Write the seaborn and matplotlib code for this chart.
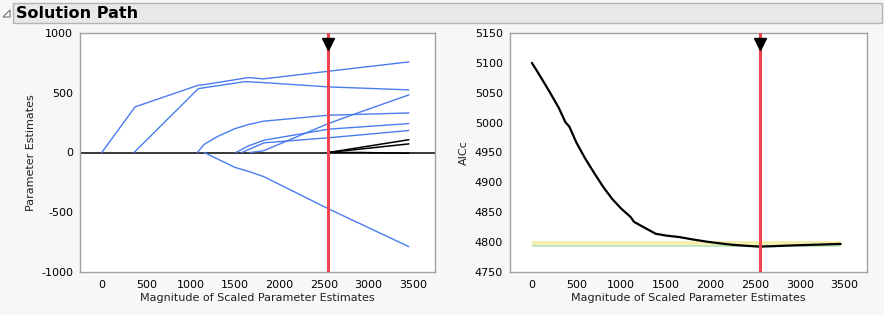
import numpy as np
import pandas as pd
import matplotlib
matplotlib.use("Agg")
import matplotlib.pyplot as plt
from matplotlib.patches import Rectangle, Polygon
from matplotlib.ticker import MultipleLocator
import seaborn as sns

sns.set_theme(style="white")
plt.rcParams['font.family'] = ['DejaVu Sans']
plt.rcParams['axes.unicode_minus'] = False

# ---------------- data ----------------
selected_x = 2550

path_a_x = [0, 375, 1087, 1130, 1650, 1819, 2550, 3456]
path_a_y = [0, 382, 563, 565, 627, 616, 680, 758]
path_b_x = [364, 1087, 1612, 1819, 2550, 3456]
path_b_y = [0, 535, 593, 585, 549, 524]
path_c_x = [1076, 1151, 1294, 1500, 1650, 1819, 2550, 3456]
path_c_y = [0, 67, 131, 200, 234, 262, 312, 331]
path_d_x = [1151, 1500, 1669, 1826, 2550, 3456]
path_d_y = [0, -125, -162, -203, -471, -788]
path_e_x = [1511, 1650, 1826, 2550, 3456]
path_e_y = [0, 55, 103, 195, 242]
path_f_x = [1575, 1700, 1826, 2550, 3456]
path_f_y = [0, 40, 81, 123, 184]
path_g_x = [1669, 1819, 2550, 2831, 3456]
path_g_y = [0, 14, 242, 318, 482]
path_h_x = [2550, 3456]
path_h_y = [0, 107]
path_i_x = [2550, 3456]
path_i_y = [0, 72]
path_j_x = [2550, 2906, 3456]
path_j_y = [0, 0, -6]

blue_paths = {"a": (path_a_x, path_a_y), "b": (path_b_x, path_b_y),
              "c": (path_c_x, path_c_y), "d": (path_d_x, path_d_y),
              "e": (path_e_x, path_e_y), "f": (path_f_x, path_f_y),
              "g": (path_g_x, path_g_y)}
black_paths = {"h": (path_h_x, path_h_y), "i": (path_i_x, path_i_y),
               "j": (path_j_x, path_j_y)}

aicc_x = [0, 100, 200, 300, 374, 420, 500, 600, 700, 800, 900, 1000, 1105,
          1142, 1250, 1386, 1500, 1647, 1800, 1947, 2100, 2246, 2400, 2546,
          2700, 2920, 3200, 3456]
aicc_y = [5100, 5076, 5051, 5025, 5001, 4993, 4966, 4939, 4915, 4892, 4872,
          4856, 4842, 4834, 4825, 4814, 4811, 4808.5, 4804.5, 4801, 4798,
          4795.5, 4793.8, 4792.5, 4793.2, 4794.5, 4795.8, 4797]

band_x = [0, 3456]
green_lo, green_hi = 4792.3, 4795.0
yellow_lo, yellow_hi = 4795.0, 4802.0

x_ticks = [0, 500, 1000, 1500, 2000, 2500, 3000, 3500]
xlabel = "Magnitude of Scaled Parameter Estimates"

# ---------------- figure ----------------
W, H = 884, 315
fig = plt.figure(figsize=(W / 100, H / 100), dpi=100)
fig.patch.set_facecolor("#f7f7f7")

# header bar
fig.patches.append(Rectangle((13 / W, 1 - 23 / H), (882 - 13) / W, 20 / H,
                             transform=fig.transFigure, facecolor="#e9e9e9",
                             edgecolor="#b4b4b4", linewidth=1))
fig.patches.append(Polygon([[3 / W, 1 - 17 / H], [10 / W, 1 - 10 / H], [10 / W, 1 - 17 / H]],
                           closed=True, transform=fig.transFigure,
                           facecolor="white", edgecolor="#707070", linewidth=0.8))
fig.text(16 / W, 1 - 13 / H, "Solution Path", fontsize=11.5, fontweight="bold",
         va="center", ha="left", color="black")

axL = fig.add_axes([80 / W, 43 / H, 355 / W, 239 / H])
axR = fig.add_axes([510 / W, 43 / H, 357 / W, 239 / H])

blue = "#4a7cf0"
rows = []
for k, (xs, ys) in blue_paths.items():
    for x, y in zip(xs, ys):
        rows.append({"term": k, "mag": x, "est": y})
dfb = pd.DataFrame(rows)
rows = []
for k, (xs, ys) in black_paths.items():
    for x, y in zip(xs, ys):
        rows.append({"term": k, "mag": x, "est": y})
dfk = pd.DataFrame(rows)

axL.axhline(0, color="black", lw=1.1, zorder=1)
sns.lineplot(data=dfb, x="mag", y="est", units="term", estimator=None,
             color=blue, lw=1.0, ax=axL, sort=False, zorder=2)
sns.lineplot(data=dfk, x="mag", y="est", units="term", estimator=None,
             color="black", lw=1.1, ax=axL, sort=False, zorder=3)

dfa = pd.DataFrame({"mag": aicc_x, "aicc": aicc_y})
axR.fill_between(band_x, yellow_lo, yellow_hi, color="#f2efb0", lw=0, zorder=1)
axR.fill_between(band_x, green_lo, green_hi, color="#c3e8bf", lw=0, zorder=1)
sns.lineplot(data=dfa, x="mag", y="aicc", color="black", lw=1.6, ax=axR,
             sort=False, zorder=3)

for ax, ylim, ylab, yt in [
        (axL, (-1000, 1000), "Parameter Estimates", [-1000, -500, 0, 500, 1000]),
        (axR, (4750, 5150), "AICc", list(range(4750, 5151, 50)))]:
    ax.set_facecolor("white")
    ax.set_xlim(-245, 3750)
    ax.set_ylim(*ylim)
    ax.set_xticks(x_ticks)
    ax.set_yticks(yt)
    ax.set_xlabel(xlabel, fontsize=8, color="#202020", labelpad=2)
    ax.set_ylabel(ylab, fontsize=8, color="#202020", labelpad=4)
    ax.axvline(selected_x, color="#f04450", lw=2.2, zorder=4)
    ax.plot([selected_x], [0.955], marker="v", markersize=9, color="black",
            transform=ax.get_xaxis_transform(), zorder=5, clip_on=False)
    for s in ax.spines.values():
        s.set_color("#a0a0a0")
        s.set_linewidth(1)
    ax.tick_params(axis="both", which="both", direction="out", color="#a0a0a0",
                   labelsize=8, labelcolor="black", length=4, width=1)
    ax.tick_params(axis="x", pad=2)
    ax.tick_params(axis="y", pad=1)

axL.yaxis.set_minor_locator(MultipleLocator(250))
axL.tick_params(axis="y", which="minor", length=3)

fig.savefig("out.png", dpi=100, facecolor=fig.get_facecolor())
